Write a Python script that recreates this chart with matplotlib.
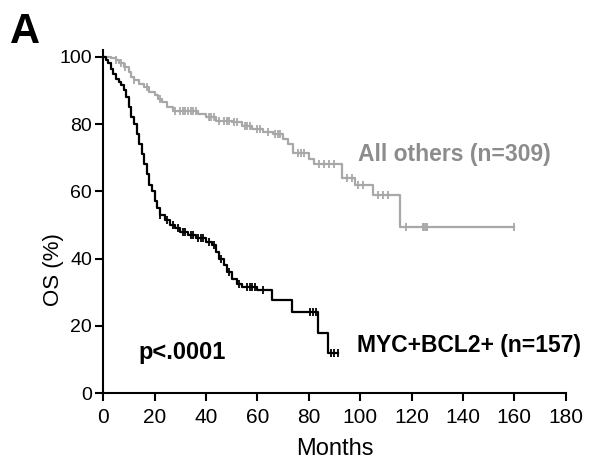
import matplotlib
matplotlib.use("Agg")
import matplotlib.pyplot as plt

plt.rcParams['font.family'] = ['Liberation Sans', 'DejaVu Sans']

# MYC+BCL2+ group: step times (months) and survival (%) after each step
myc_times = [0, 1, 2, 3, 4, 5, 6, 7, 8, 9, 10, 11, 12, 13, 14, 15, 16, 17, 18,
             19, 20, 21, 22, 24, 26, 28, 30, 33, 36, 40, 42.5, 44, 45, 47, 48,
             50, 52, 54, 60, 65.7, 73.5, 83.6, 87.5]
myc_surv = [100, 99, 98, 96.5, 95, 93.5, 92.5, 91.5, 90, 88, 85, 82, 80, 77,
            74, 71, 68, 65, 62, 60, 57, 55, 53, 51.5, 50, 49, 48, 47, 46, 45,
            44, 42, 40, 38, 36, 34, 32.5, 31.5, 30.5, 27.7, 24, 18, 12]
myc_end = 91.5
myc_censor = [22, 25, 27, 29, 31, 32, 34, 35, 37, 38, 39, 41, 43, 46, 49, 53,
              56, 57, 58, 59, 62, 80.5, 81.7, 82.8, 88.5, 90, 91.5]

# All others group
oth_times = [0, 3, 5, 6, 8, 10, 11, 12, 14, 16, 18, 20, 21.5, 23, 25, 27, 37,
             40, 44, 50, 54, 58, 62, 66, 70, 72, 74, 80, 82, 93, 98, 105, 115.5]
oth_surv = [100, 99.5, 99, 98, 97, 95.5, 94, 93, 92, 91, 89.5, 88.5, 87.5,
            86.5, 85, 84, 83, 82, 81, 80.5, 79.5, 78.5, 77.5, 77, 75.5, 74,
            71.5, 69.5, 68, 64, 62, 59, 49.4]
oth_end = 160
oth_censor = [5, 7, 8.5, 12, 17, 22, 28, 30, 31, 32, 33, 34, 35, 36, 41, 42,
              43, 45, 47, 48, 49, 51, 52, 55, 56, 57, 60, 61, 64, 67, 68, 69,
              76, 77, 78, 84, 86, 88, 90, 95, 97, 99, 101, 107, 109, 111, 118,
              124.5, 125, 125.5, 126, 160]

x_ticks = [0, 20, 40, 60, 80, 100, 120, 140, 160, 180]
y_ticks = [0, 20, 40, 60, 80, 100]


def surv_at(times, surv, t):
    s = surv[0]
    for ti, si in zip(times, surv):
        if ti <= t:
            s = si
    return s


def draw_km(ax, times, surv, end, censor, color, lw):
    xs = list(times) + [end]
    ys = list(surv) + [surv[-1]]
    ax.step(xs, ys, where='post', color=color, lw=lw, clip_on=False)
    cy = [surv_at(times, surv, c) for c in censor]
    ax.plot(censor, cy, ls='none', marker='|', ms=6, mew=1.3, color=color,
            clip_on=False)


fig = plt.figure(figsize=(5.93, 4.63), dpi=100)
ax = fig.add_axes([0.174, 0.151, 0.780, 0.741])

draw_km(ax, oth_times, oth_surv, oth_end, oth_censor, '#a8a8a8', 1.6)
draw_km(ax, myc_times, myc_surv, myc_end, myc_censor, 'black', 1.6)

ax.set_xlim(0, 180)
ax.set_ylim(0, 102)
ax.set_xticks(x_ticks)
ax.set_yticks(y_ticks)
for s in ['top', 'right']:
    ax.spines[s].set_visible(False)
for s in ['left', 'bottom']:
    ax.spines[s].set_linewidth(1.5)
ax.tick_params(direction='out', length=6, width=1.5)
ax.tick_params(axis='x', labelsize=15, pad=5)
ax.tick_params(axis='y', labelsize=14, pad=2)
ax.set_xlabel('Months', fontsize=17, labelpad=8)
ax.set_ylabel('OS (%)', fontsize=16)
ax.yaxis.set_label_coords(-0.085, 0.36)

ax.text(99, 70.8, 'All others (n=309)', color='#8c8c8c', fontsize=16.5,
        fontweight='bold', va='center')
ax.text(98.8, 14, 'MYC+BCL2+ (n=157)', color='black', fontsize=16.5,
        fontweight='bold', va='center')
ax.text(13.6, 12, 'p<.0001', color='black', fontsize=17, fontweight='bold',
        va='center')
fig.text(0.017, 0.93, 'A', fontsize=30, fontweight='bold', va='center')

fig.savefig('out.png', dpi=100)
